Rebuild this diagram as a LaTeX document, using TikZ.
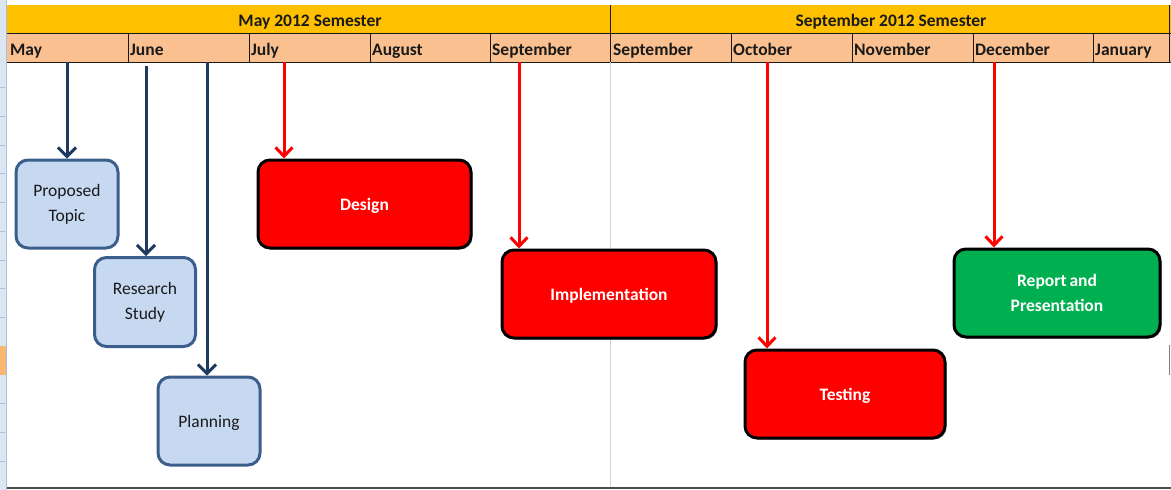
\documentclass[tikz,border=0pt]{standalone}
\usepackage{fontspec}
\setmainfont{Carlito}
\usetikzlibrary{arrows.meta,shadows}
\definecolor{hdryellow}{HTML}{FFC000}
\definecolor{monthorange}{HTML}{FAC090}
\definecolor{taskblue}{HTML}{C6D9F1}
\definecolor{taskedge}{HTML}{3B5E8C}
\definecolor{arrowblue}{HTML}{1F3A5F}
\definecolor{taskgreen}{HTML}{00B050}
\definecolor{gridline}{HTML}{C9D3E3}
\definecolor{sidebar}{HTML}{DCE6F2}
\definecolor{sidebarline}{HTML}{A9BFDB}
\definecolor{rowmark}{HTML}{F9B870}
\definecolor{ink}{HTML}{1A1A1A}

\tikzset{
  semtext/.style={font=\bfseries\fontsize{17.5}{21}\selectfont, text=ink, inner sep=0pt, anchor=base},
  monthtext/.style={font=\bfseries\fontsize{17.5}{21}\selectfont, text=ink, inner sep=0pt, anchor=base west},
  bluetask/.style={draw=taskedge, line width=3pt, fill=taskblue, rounded corners=12pt,
    minimum width=102pt, minimum height=88pt, align=center, text=ink,
    font=\fontsize{17.5}{25}\selectfont, inner sep=2pt},
  hottask/.style={draw=black, line width=3pt, rounded corners=12pt,
    minimum height=88pt, align=center, text=white,
    font=\bfseries\fontsize{17.5}{25}\selectfont, inner sep=2pt,
    drop shadow={shadow xshift=1.5pt, shadow yshift=-1.5pt, fill=black, opacity=0.35}},
  redtask/.style={hottask, fill=red},
  greentask/.style={hottask, fill=taskgreen},
  oneline/.style={text depth=0pt},
  bluearrow/.style={draw=arrowblue, line width=3pt, -{Straight Barb[length=9pt,width=18pt]}},
  redarrow/.style={draw=red, line width=3pt, -{Straight Barb[length=9pt,width=17pt]}},
  cellline/.style={draw=ink, line width=1pt}
}

\begin{document}
\begin{tikzpicture}[x=1pt,y=-1pt]
\useasboundingbox (0,0) rectangle (1171,490);

% row-header strip on the left
\fill[sidebar] (0,0) rectangle (6,490);
\fill[rowmark] (0,346) rectangle (6,375);
\draw[sidebarline, line width=1.2pt] (6.5,0) -- (6.5,490);
\foreach \y in {87,116,145,173,202,231,260,288,317,403,432,461}
  \draw[sidebarline, line width=0.8pt] (0,\y) -- (5,\y);

% semester band and month row
\fill[hdryellow] (7,5) rectangle (1171,33);
\fill[monthorange] (7,33) rectangle (1171,62);
\draw[cellline] (7,33) -- (1171,33);
\draw[cellline] (7,62) -- (1171,62);
\foreach \x in {128,249,370,490,731,852,973,1093}
  \draw[cellline] (\x,33) -- (\x,62);
\draw[cellline] (610.5,5) -- (610.5,62);
\draw[cellline] (1169.5,5) -- (1169.5,62);
\draw[gridline, line width=1pt] (610.5,62) -- (610.5,487);
\draw[black!70, line width=2pt] (7,488) -- (1171,488);
\draw[gray, line width=1pt] (1169,345) -- (1169,375);

% semester titles
\node[semtext] (sem1) at (310,26) {May 2012 Semester};
\node[semtext] (sem2) at (891,26) {September 2012 Semester};

% month labels
\node[monthtext] (m1)  at (10,55)   {May};
\node[monthtext] (m2)  at (130,55)  {June};
\node[monthtext] (m3)  at (251,55)  {July};
\node[monthtext] (m4)  at (372,55)  {August};
\node[monthtext] (m5)  at (492,55)  {September};
\node[monthtext] (m6)  at (613,55)  {September};
\node[monthtext] (m7)  at (733,55)  {October};
\node[monthtext] (m8)  at (854,55)  {November};
\node[monthtext] (m9)  at (975,55)  {December};
\node[monthtext] (m10) at (1095,55) {January};

% task boxes
\node[bluetask] (prop) at (67,204)  {Proposed\\Topic};
\node[bluetask, minimum width=101pt, minimum height=89pt] (research) at (145,302) {Research\\Study};
\node[bluetask, oneline] (plan) at (209,421) {Planning};
\node[redtask, oneline, minimum width=213pt] (design) at (364.5,204) {Design};
\node[redtask, oneline, minimum width=214pt] (impl) at (609,294) {Implementation};
\node[redtask, oneline, minimum width=200pt] (test) at (845,394) {Testing};
\node[greentask, minimum width=206pt] (report) at (1057,293) {Report\,and\\Presentation};

% arrow start points below the month row
\coordinate (sProp)   at (67,62);
\coordinate (sRes)    at (146,66);
\coordinate (sPlan)   at (207,62);
\coordinate (sDesign) at (284,62);
\coordinate (sImpl)   at (519,62);
\coordinate (sTest)   at (767,62);
\coordinate (sReport) at (994,62);

% arrows
\draw[bluearrow] (sProp) -- (sProp |- prop.north);
\draw[bluearrow] (sRes)  -- (sRes |- research.north);
\draw[bluearrow] (sPlan) -- (sPlan |- plan.north);
\draw[redarrow] (sDesign) -- (sDesign |- design.north);
\draw[redarrow] (sImpl)   -- (sImpl |- impl.north);
\draw[redarrow] (sTest)   -- (sTest |- test.north);
\draw[redarrow] (sReport) -- (sReport |- report.north);
\end{tikzpicture}
\end{document}
